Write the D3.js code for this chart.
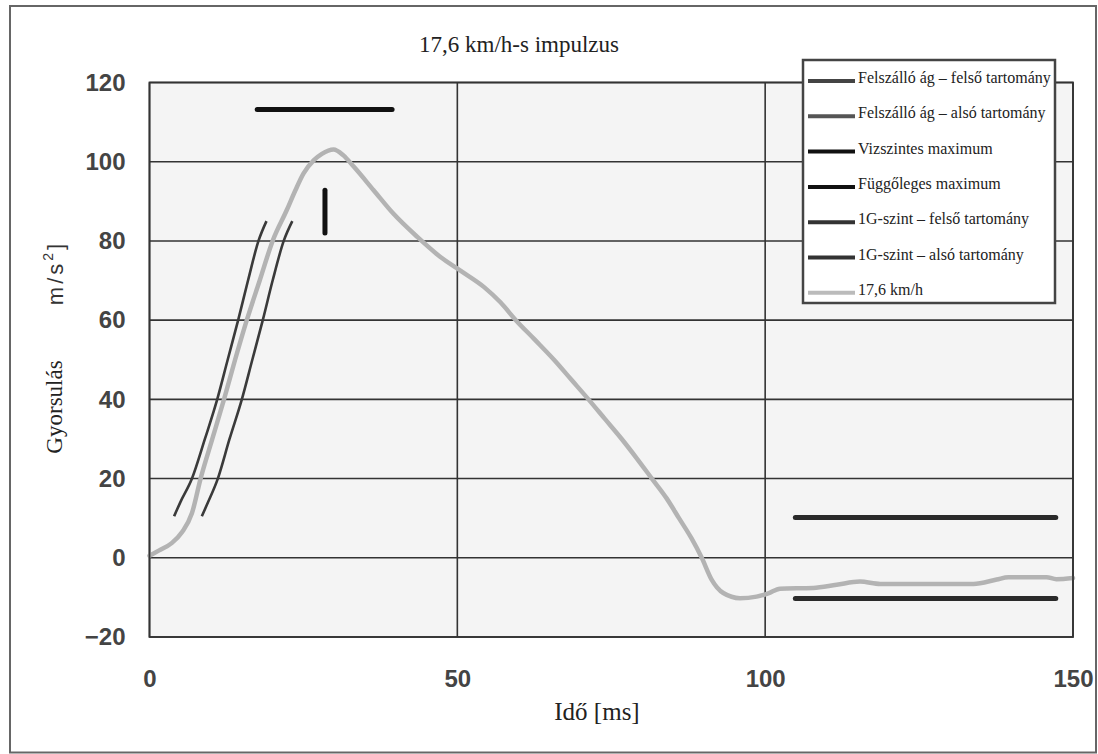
<!DOCTYPE html>
<html>
<head>
<meta charset="utf-8">
<script src="https://cdn.jsdelivr.net/npm/d3@7"></script>
<style>
  body { margin: 0; background: #fff; }
  .tick text { font-family: "Liberation Sans", Arial, sans-serif; font-weight: bold; font-size: 24px; fill: #444; }
</style>
</head>
<body>
<div id="chart"></div>
<script>
// chart data (time in ms, acceleration in m/s^2)
var xTicks = [0, 50, 100, 150];
var yTicks = [-20, 0, 20, 40, 60, 80, 100, 120];

var pulseTime = [0, 1.5, 3.6, 5.3, 6.9, 8.3, 10.2, 12.1, 13.9, 15.8, 17.9, 20, 22.3, 23.7, 25, 26.7, 28, 29.9, 31.5, 33.2, 36.4, 39.6, 43.5, 47.2, 50.5, 54.3, 57, 59.5, 62.5, 65.7, 68.5, 71.3, 74, 76.7, 79.2, 81.6, 84, 86, 88, 89.7, 91.3, 93.2, 95.9, 98.6, 100.5, 102.4, 107.8, 111.6, 115.4, 118.7, 125, 133.8, 137.6, 139.5, 145.7, 147.3, 150];
var pulseAcc = [0.5, 1.8, 3.7, 6.5, 11.3, 20, 30, 40, 50, 60, 70, 80, 87.8, 92.8, 97, 100.4, 102, 103.1, 101.6, 98.7, 92.8, 86.9, 81, 76, 72.5, 68.4, 64.5, 60, 55.2, 50, 45, 40, 35, 30, 25, 20, 15, 10, 5, 0, -5.5, -8.9, -10.2, -9.8, -9.0, -7.8, -7.6, -6.8, -6.0, -6.6, -6.6, -6.6, -5.5, -4.9, -4.9, -5.4, -5.1];

var riseUpperTime = [4, 5, 6.9, 9, 11, 12.7, 14.4, 16, 17.7, 19];
var riseUpperAcc = [10.5, 14, 20, 30, 40, 50, 60, 70, 80, 85];
var riseLowerTime = [8.5, 9.5, 11.1, 13, 15, 16.7, 18.4, 20, 21.8, 23.2];
var riseLowerAcc = [10.5, 14, 20, 30, 40, 50, 60, 70, 80, 85];

var horizMaxTime = [17.5, 39.4];
var horizMaxAcc = [113.2, 113.2];
var vertMaxTime = [28.5, 28.5];
var vertMaxAcc = [82, 92.8];

var oneGTime = [104.9, 147.2];
var oneGUpperAcc = [10.2, 10.2];
var oneGLowerAcc = [-10.3, -10.3];

var legendLabels = ["Felszálló ág – felső tartomány", "Felszálló ág – alsó tartomány", "Vizszintes maximum",
  "Függőleges maximum", "1G-szint – felső tartomány", "1G-szint – alsó tartomány", "17,6 km/h"];

var serif = "'Liberation Serif', 'Times New Roman', 'DejaVu Serif', serif";

var svgWidth = 1098;
var svgHeight = 754;
var plot = { left: 149.5, right: 1073, top: 82.5, bottom: 637 };

var svg = d3.select("#chart")
  .append("svg")
  .attr("width", svgWidth)
  .attr("height", svgHeight);

// outer frame
svg.append("rect")
  .attr("x", 10).attr("y", 6)
  .attr("width", 1086).attr("height", 746.5)
  .attr("fill", "#fff")
  .attr("stroke", "#666")
  .attr("stroke-width", 2);

var x = d3.scaleLinear().domain([0, 150]).range([plot.left, plot.right]);
var y = d3.scaleLinear().domain([-20, 120]).range([plot.bottom, plot.top]);

// plot background
svg.append("rect")
  .attr("x", plot.left).attr("y", plot.top)
  .attr("width", plot.right - plot.left).attr("height", plot.bottom - plot.top)
  .attr("fill", "#f4f4f4");

// grid
var grid = svg.append("g").attr("stroke", "#333").attr("stroke-width", 1.6);
grid.selectAll("line.h")
  .data(yTicks)
  .enter().append("line")
  .attr("class", "h")
  .attr("x1", plot.left).attr("x2", plot.right)
  .attr("y1", d => y(d)).attr("y2", d => y(d));
grid.selectAll("line.v")
  .data(xTicks)
  .enter().append("line")
  .attr("class", "v")
  .attr("x1", d => x(d)).attr("x2", d => x(d))
  .attr("y1", plot.top).attr("y2", plot.bottom);

// axes (labels only)
var yAxis = svg.append("g")
  .attr("transform", `translate(${plot.left},0)`)
  .call(d3.axisLeft(y).tickValues(yTicks).tickSize(0).tickPadding(24));
yAxis.select(".domain").remove();

var xAxis = svg.append("g")
  .attr("transform", `translate(0,${plot.bottom})`)
  .call(d3.axisBottom(x).tickValues(xTicks).tickSize(0).tickPadding(33));
xAxis.select(".domain").remove();

// helper to zip time/value arrays
function zip(t, a) {
  return t.map((d, i) => [d, a[i]]);
}

var smooth = d3.line()
  .curve(d3.curveMonotoneX)
  .x(d => x(d[0]))
  .y(d => y(d[1]));

var straight = d3.line()
  .x(d => x(d[0]))
  .y(d => y(d[1]));

var series = [
  { pts: zip(riseUpperTime, riseUpperAcc), color: "#3a3a3a", w: 2.6, cap: "butt" },
  { pts: zip(riseLowerTime, riseLowerAcc), color: "#3a3a3a", w: 2.6, cap: "butt" },
  { pts: zip(horizMaxTime, horizMaxAcc), color: "#111", w: 5, cap: "round" },
  { pts: zip(vertMaxTime, vertMaxAcc), color: "#111", w: 5, cap: "round" },
  { pts: zip(oneGTime, oneGUpperAcc), color: "#2a2a2a", w: 5, cap: "round" },
  { pts: zip(oneGTime, oneGLowerAcc), color: "#2a2a2a", w: 5, cap: "round" },
  { pts: zip(pulseTime, pulseAcc), color: "#b3b3b3", w: 4.5, cap: "round" }
];

svg.append("g")
  .selectAll("path")
  .data(series)
  .enter().append("path")
  .attr("d", d => d.pts.length > 2 ? smooth(d.pts) : straight(d.pts))
  .attr("fill", "none")
  .attr("stroke", d => d.color)
  .attr("stroke-width", d => d.w)
  .attr("stroke-linecap", d => d.cap)
  .attr("stroke-linejoin", "round");

// plot border
svg.append("rect")
  .attr("x", plot.left).attr("y", plot.top)
  .attr("width", plot.right - plot.left).attr("height", plot.bottom - plot.top)
  .attr("fill", "none")
  .attr("stroke", "#333")
  .attr("stroke-width", 1.8);

// legend
var legend = svg.append("g");
legend.append("rect")
  .attr("x", 803).attr("y", 60)
  .attr("width", 252).attr("height", 243)
  .attr("fill", "#fff")
  .attr("stroke", "#444")
  .attr("stroke-width", 2.5);

var swatchColors = ["#444", "#555", "#111", "#111", "#333", "#333", "#bbb"];
var items = legend.selectAll("g.item")
  .data(legendLabels)
  .enter().append("g")
  .attr("class", "item")
  .attr("transform", (d, i) => `translate(0,${80 + i * 35.3})`);

items.append("line")
  .attr("x1", 808).attr("x2", 855)
  .attr("y1", 1).attr("y2", 1)
  .attr("stroke", (d, i) => swatchColors[i])
  .attr("stroke-width", 4);

items.append("text")
  .attr("x", 858).attr("y", 3)
  .attr("font-family", serif)
  .attr("font-size", "16px")
  .attr("fill", "#222")
  .text(d => d);

// title and axis titles
svg.append("text")
  .attr("x", 519).attr("y", 52)
  .attr("text-anchor", "middle")
  .attr("font-family", serif)
  .attr("font-size", "23px")
  .attr("fill", "#222")
  .text("17,6 km/h-s impulzus");

svg.append("text")
  .attr("x", 597).attr("y", 720)
  .attr("text-anchor", "middle")
  .attr("font-family", serif)
  .attr("font-size", "25px")
  .attr("fill", "#222")
  .text("Idő [ms]");

svg.append("text")
  .attr("transform", "translate(62,407) rotate(-90)")
  .attr("text-anchor", "middle")
  .attr("font-family", serif)
  .attr("font-size", "23px")
  .attr("fill", "#222")
  .text("Gyorsulás");

var unit = svg.append("text")
  .attr("transform", "translate(63,273) rotate(-90)")
  .attr("text-anchor", "middle")
  .attr("font-family", "'Liberation Sans', Arial, sans-serif")
  .attr("font-size", "22px")
  .attr("letter-spacing", "3px")
  .attr("fill", "#333");
unit.append("tspan").text("m/s");
unit.append("tspan").attr("dy", -10).attr("font-size", "14px").text("2");
unit.append("tspan").attr("dy", 10).text("]");
</script>
</body>
</html>
